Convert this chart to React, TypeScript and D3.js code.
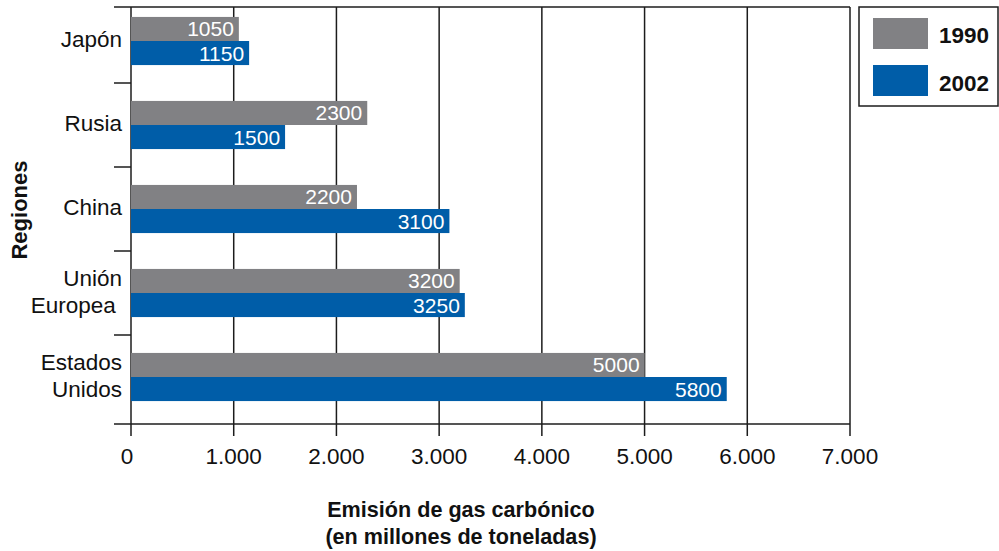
import React from "react";
import * as d3 from "d3";

const categories: string[][] = [["Japón"], ["Rusia"], ["China"], ["Unión", "Europea "], ["Estados", "Unidos"]];
const series: string[] = ["1990", "2002"];
const values1990: number[] = [1050, 2300, 2200, 3200, 5000];
const values2002: number[] = [1150, 1500, 3100, 3250, 5800];
const xTicks: number[] = [0, 1000, 2000, 3000, 4000, 5000, 6000, 7000];
const xTickLabels: string[] = ["0", "1.000", "2.000", "3.000", "4.000", "5.000", "6.000", "7.000"];
const colors: string[] = ["#818184", "#005DA8"];
const xTitle: string[] = ["Emisión de gas carbónico", "(en millones de toneladas)"];
const yTitle = "Regiones";

const FONT = "'Liberation Sans', Arial, Helvetica, sans-serif";
const LINE = "#1c1c1c";

export default function App() {
  const left = 131, right = 850, top = 7, bottom = 424;
  const x = d3.scaleLinear().domain([0, 7000]).range([left, right]);
  const keys = categories.map((c) => c.join(" "));
  const y = d3.scaleBand<string>().domain(keys).range([-1, 419]).paddingInner(0.427).paddingOuter(0.2135);
  const inner = d3.scaleBand<string>().domain(series).range([0, y.bandwidth()]);
  const seriesValues = [values1990, values2002];
  const step = y.step();

  return (
    <svg width={999} height={551} style={{ position: "absolute", left: 0, top: 0, background: "#fff" }} fontFamily={FONT}>
      {/* gridlines + x ticks */}
      {xTicks.map((t, i) => (
        <line key={"g" + i} x1={x(t)} x2={x(t)} y1={top} y2={bottom + 12} stroke={LINE} strokeWidth={1.5} />
      ))}
      {/* top frame */}
      <line x1={114} x2={right} y1={top} y2={top} stroke={LINE} strokeWidth={1.5} />
      {/* bottom axis */}
      <line x1={114} x2={right} y1={bottom} y2={bottom} stroke={LINE} strokeWidth={1.5} />
      {/* category separators */}
      {keys.slice(0, -1).map((k, i) => {
        const yy = (y(k) as number) + y.bandwidth() / 2 + step / 2;
        return <line key={"s" + i} x1={114} x2={left} y1={yy} y2={yy} stroke={LINE} strokeWidth={1.5} />;
      })}
      {/* bars */}
      {keys.map((k, ci) =>
        series.map((s, si) => {
          const v = seriesValues[si][ci];
          const by = (y(k) as number) + (inner(s) as number);
          const bh = inner.bandwidth();
          return (
            <g key={k + s}>
              <rect x={x(0)} y={by} width={x(v) - x(0)} height={bh} fill={colors[si]} />
              <text x={x(v) - 5} y={by + bh / 2 + 7.5} textAnchor="end" fill="#fff" fontSize={21}>
                {v}
              </text>
            </g>
          );
        })
      )}
      {/* category labels */}
      {categories.map((lines, ci) => {
        const cy = (y(keys[ci]) as number) + y.bandwidth() / 2;
        return lines.map((ln, li) => (
          <text
            key={"c" + ci + li}
            x={122}
            y={cy + 6 + (li - (lines.length - 1) / 2) * 27}
            textAnchor="end"
            fontSize={22.5}
            fill="#111"
            style={{ whiteSpace: "pre" }}
          >
            {ln}
          </text>
        ));
      })}
      {/* x tick labels */}
      {xTicks.map((t, i) => (
        <text key={"t" + i} x={x(t) - (i === 0 ? 4 : 0)} y={464} textAnchor="middle" fontSize={22.5} fill="#111">
          {xTickLabels[i]}
        </text>
      ))}
      {/* x title */}
      {xTitle.map((ln, i) => (
        <text key={"xt" + i} x={461} y={517 + i * 27} textAnchor="middle" fontSize={21.6} fontWeight="bold" fill="#111">
          {ln}
        </text>
      ))}
      {/* y title */}
      <text transform="translate(27,210) rotate(-90)" textAnchor="middle" fontSize={22} fontWeight="bold" fill="#111">
        {yTitle}
      </text>
      {/* legend */}
      <rect x={859} y={7} width={139} height={99} fill="#fff" stroke={LINE} strokeWidth={1.5} />
      {series.map((s, i) => (
        <g key={"l" + s}>
          <rect x={873} y={18 + i * 47} width={55} height={31} fill={colors[i]} />
          <text x={939} y={43 + i * 48} fontSize={22.5} fontWeight="bold" fill="#111">
            {s}
          </text>
        </g>
      ))}
    </svg>
  );
}
